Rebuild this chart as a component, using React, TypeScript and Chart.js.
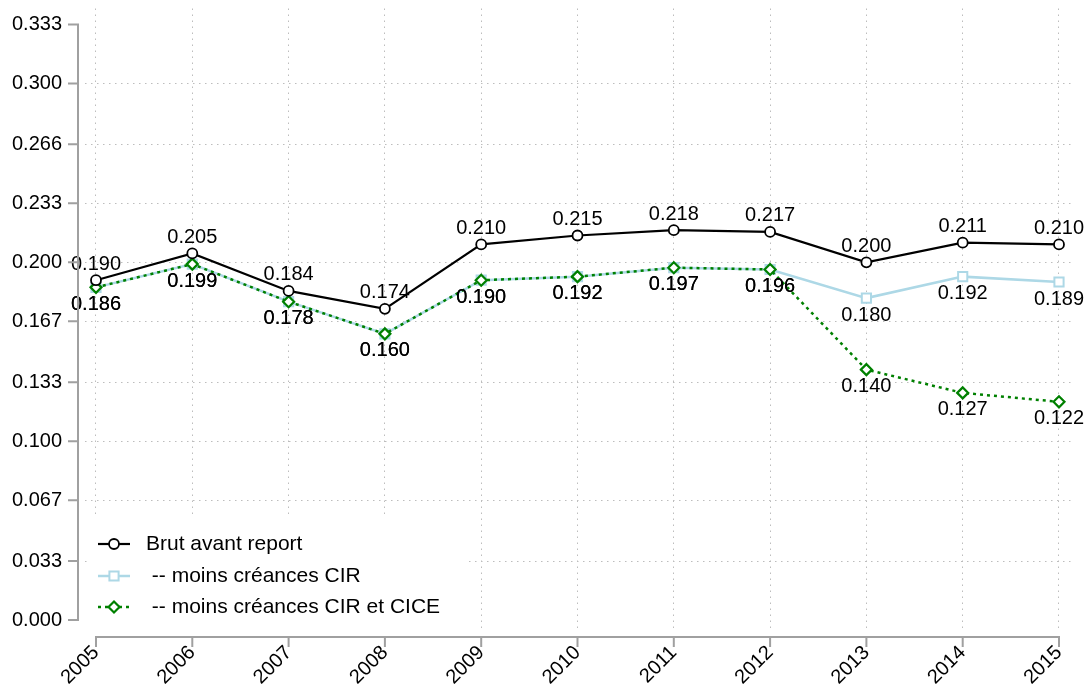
import React, { useEffect, useRef } from 'react';
import { Chart, registerables } from 'chart.js';

Chart.register(...registerables);

const years = [2005, 2006, 2007, 2008, 2009, 2010, 2011, 2012, 2013, 2014, 2015];
const brutAvantReport = [0.190, 0.205, 0.184, 0.174, 0.210, 0.215, 0.218, 0.217, 0.200, 0.211, 0.210];
const moinsCIR = [0.186, 0.199, 0.178, 0.160, 0.190, 0.192, 0.197, 0.196, 0.180, 0.192, 0.189];
const moinsCIRetCICE = [0.186, 0.199, 0.178, 0.160, 0.190, 0.192, 0.197, 0.196, 0.140, 0.127, 0.122];
const yTickLabels = ['0.000', '0.033', '0.067', '0.100', '0.133', '0.167', '0.200', '0.233', '0.266', '0.300', '0.333'];
const seriesNames = ['Brut avant report', ' -- moins créances CIR', ' -- moins créances CIR et CICE'];

const yTickValues = yTickLabels.map((s) => Number(s));
const FONT = '"Liberation Sans", Arial, Helvetica, sans-serif';
const GRID = '#bdbdbd';
const AXIS = '#a0a0a0';
const GRID_DASH = [1.5, 4.5];

function drawMarker(ctx: CanvasRenderingContext2D, style: string, x: number, y: number, r: number) {
  ctx.beginPath();
  if (style === 'circle') {
    ctx.arc(x, y, r, 0, Math.PI * 2);
  } else if (style === 'rect') {
    const s = r * Math.SQRT1_2;
    ctx.rect(x - s, y - s, 2 * s, 2 * s);
  } else {
    ctx.moveTo(x - r, y);
    ctx.lineTo(x, y - r);
    ctx.lineTo(x + r, y);
    ctx.lineTo(x, y + r);
    ctx.closePath();
  }
  ctx.fillStyle = '#fff';
  ctx.fill();
  ctx.stroke();
}

export default function App() {
  const ref = useRef<HTMLCanvasElement>(null);

  useEffect(() => {
    const canvas = ref.current;
    if (!canvas) return;

    const valueLabels = {
      id: 'valueLabels',
      afterDatasetsDraw(chart: any) {
        const ctx = chart.ctx as CanvasRenderingContext2D;
        ctx.save();
        ctx.font = `20px ${FONT}`;
        ctx.fillStyle = '#000';
        ctx.textAlign = 'center';
        ctx.textBaseline = 'middle';
        chart.data.datasets.forEach((ds: any, di: number) => {
          const meta = chart.getDatasetMeta(di);
          meta.data.forEach((pt: any, i: number) => {
            const v = ds.data[i].y as number;
            const above = di === 0;
            ctx.fillText(v.toFixed(3), pt.x, pt.y + (above ? -16 : 17));
          });
        });
        ctx.restore();
      },
    };

    const axesAndLegend = {
      id: 'axesAndLegend',
      afterDraw(chart: any) {
        const ctx = chart.ctx as CanvasRenderingContext2D;
        const xs = chart.scales.x;
        const ys = chart.scales.y;
        const area = chart.chartArea;
        ctx.save();
        // axes
        ctx.strokeStyle = AXIS;
        ctx.lineWidth = 2;
        ctx.setLineDash([]);
        const axX = area.left - 7;
        ctx.beginPath();
        ctx.moveTo(axX, ys.getPixelForValue(yTickValues[yTickValues.length - 1]) - 1);
        ctx.lineTo(axX, ys.getPixelForValue(yTickValues[0]) + 1);
        yTickValues.forEach((v) => {
          const py = ys.getPixelForValue(v);
          ctx.moveTo(axX - 10, py);
          ctx.lineTo(axX, py);
        });
        ctx.stroke();
        const axY = area.bottom + 7;
        ctx.beginPath();
        ctx.moveTo(xs.getPixelForValue(years[0]) - 1, axY);
        ctx.lineTo(xs.getPixelForValue(years[years.length - 1]) + 1, axY);
        years.forEach((v) => {
          const px = xs.getPixelForValue(v);
          ctx.moveTo(px, axY);
          ctx.lineTo(px, axY + 10);
        });
        ctx.stroke();

        // legend
        const lx = area.left + 2;
        const by = area.bottom - 2;
        ctx.fillStyle = '#fff';
        ctx.fillRect(lx, by - 111, 378, 111);
        const rows = [by - 84, by - 52, by - 21];
        chart.data.datasets.forEach((ds: any, di: number) => {
          const y = rows[di];
          ctx.strokeStyle = ds.borderColor;
          ctx.lineWidth = ds.borderWidth;
          ctx.setLineDash(ds.borderDash || []);
          ctx.beginPath();
          ctx.moveTo(lx + 11, y);
          ctx.lineTo(lx + 43, y);
          ctx.stroke();
          ctx.setLineDash([]);
          ctx.lineWidth = ds.pointBorderWidth;
          drawMarker(ctx, ds.pointStyle, lx + 27, y, ds.pointRadius);
          ctx.fillStyle = '#000';
          ctx.font = `21px ${FONT}`;
          ctx.textAlign = 'left';
          ctx.textBaseline = 'middle';
          ctx.fillText(seriesNames[di], lx + 59, y);
        });
        ctx.restore();
      },
    };

    const mk = (vals: number[]) => vals.map((v, i) => ({ x: years[i], y: v }));

    const chart = new Chart(canvas, {
      type: 'line',
      data: {
        datasets: [
          {
            label: seriesNames[0],
            data: mk(brutAvantReport),
            borderColor: '#000000',
            borderWidth: 2.2,
            pointStyle: 'circle',
            pointRadius: 5,
            pointBorderWidth: 1.8,
            pointBorderColor: '#000000',
            pointBackgroundColor: '#ffffff',
            tension: 0,
            order: 0,
          },
          {
            label: seriesNames[1],
            data: mk(moinsCIR),
            borderColor: '#add8e6',
            borderWidth: 2.5,
            pointStyle: 'rect',
            pointRadius: 6.5,
            pointBorderWidth: 2,
            pointBorderColor: '#add8e6',
            pointBackgroundColor: '#ffffff',
            tension: 0,
            order: 2,
          },
          {
            label: seriesNames[2],
            data: mk(moinsCIRetCICE),
            borderColor: '#008000',
            borderWidth: 2.5,
            borderDash: [3, 4],
            pointStyle: 'rectRot',
            pointRadius: 5.5,
            pointBorderWidth: 2.2,
            pointBorderColor: '#008000',
            pointBackgroundColor: '#ffffff',
            tension: 0,
            order: 1,
          },
        ] as any,
      },
      options: {
        animation: false,
        responsive: false,
        devicePixelRatio: 1,
        layout: { padding: { top: 7, right: 15, left: 0, bottom: 0 } },
        plugins: {
          legend: { display: false },
          tooltip: { enabled: false },
        },
        scales: {
          x: {
            type: 'linear',
            min: 2004.8858,
            max: 2015.1454,
            afterBuildTicks: (s: any) => {
              s.ticks = years.map((v) => ({ value: v }));
            },
            afterFit: (s: any) => {
              s.height = 60;
              s.paddingTop = 0;
              s.paddingBottom = 0;
            },
            ticks: {
              autoSkip: false,
              minRotation: 45,
              maxRotation: 45,
              padding: 11,
              color: '#000',
              font: { family: FONT, size: 20 },
              callback: (v: any) => String(v),
            },
            grid: { color: GRID, lineWidth: 1, drawTicks: false, borderDash: GRID_DASH } as any,
            border: { display: false, dash: GRID_DASH },
          },
          y: {
            type: 'linear',
            min: -0.005578,
            max: 0.34192,
            afterBuildTicks: (s: any) => {
              s.ticks = yTickValues.map((v) => ({ value: v }));
            },
            afterFit: (s: any) => {
              s.width = 85;
              s.paddingTop = 0;
              s.paddingBottom = 0;
            },
            ticks: {
              padding: 23,
              color: '#000',
              font: { family: FONT, size: 20 },
              callback: (_v: any, i: number) => yTickLabels[i],
            },
            grid: {
              color: (c: any) => (c.index === 0 || c.index === yTickValues.length - 1 ? 'rgba(0,0,0,0)' : GRID),
              lineWidth: 1,
              drawTicks: false,
              borderDash: GRID_DASH,
            } as any,
            border: { display: false, dash: GRID_DASH },
          },
        },
      },
      plugins: [valueLabels, axesAndLegend],
    });

    return () => chart.destroy();
  }, []);

  return (
    <div style={{ position: 'fixed', left: 0, top: 0, width: 1088, height: 690, background: '#fff' }}>
      <canvas ref={ref} width={1088} height={690} style={{ display: 'block' }} />
    </div>
  );
}
